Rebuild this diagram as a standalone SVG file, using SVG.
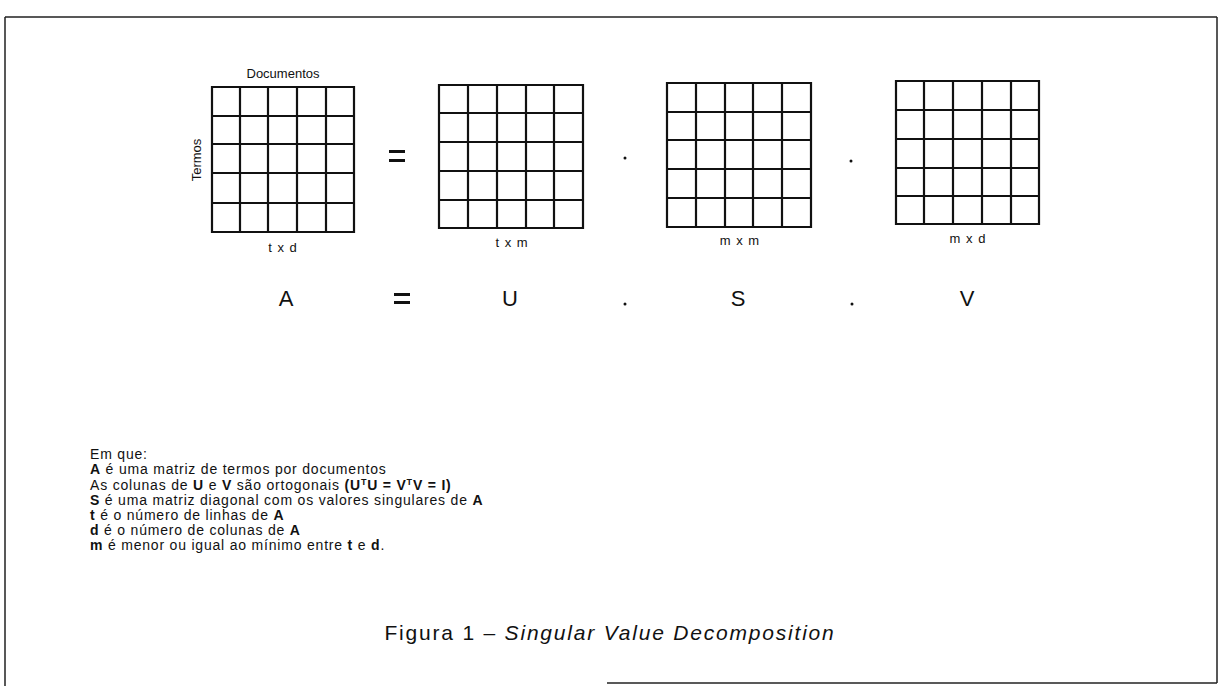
<svg xmlns="http://www.w3.org/2000/svg" width="1221" height="686" viewBox="0 0 1221 686">
<style>
.grid{fill:none;stroke:#111;stroke-width:2.2}
.lbl{font-family:"Liberation Sans",Arial,sans-serif;font-size:13px;fill:#111;text-anchor:middle}
.sz{letter-spacing:1px}
.big{font-family:"Liberation Sans",Arial,sans-serif;font-size:22px;fill:#111;text-anchor:middle}
.note{font-family:"Liberation Sans",Arial,sans-serif;font-size:14px;letter-spacing:0.8px;fill:#111}
.b{font-weight:bold}
.cap{font-family:"Liberation Sans",Arial,sans-serif;font-size:21px;letter-spacing:1.8px;fill:#111;text-anchor:middle}
.frame{fill:none;stroke:#222;stroke-width:1.5}
</style>
<rect width="1221" height="686" fill="#fff"/>
<g id="frame">
<path class="frame" d="M5,17 H1217 M5,17 V686 M1217,17 V683"/>
<path class="frame" d="M607,683 H1217" stroke-width="2"/>
</g>
<g id="matrix-A">
<text class="lbl" x="283" y="78">Documentos</text>
<text class="lbl" transform="translate(201,160) rotate(-90)">Termos</text>
<path class="grid" d="M212,87H354V232H212Z M240,87V232 M268,87V232 M297,87V232 M326,87V232 M212,116H354 M212,144H354 M212,173H354 M212,203H354"/>
<text class="lbl sz" x="283" y="252">t x d</text>
</g>
<g id="matrix-U">
<path class="grid" d="M439,85H583V228H439Z M468,85V228 M497,85V228 M526,85V228 M554,85V228 M439,113H583 M439,142H583 M439,171H583 M439,200H583"/>
<text class="lbl sz" x="512" y="247">t x m</text>
</g>
<g id="matrix-S">
<path class="grid" d="M667,83H811V227H667Z M696,83V227 M725,83V227 M753,83V227 M782,83V227 M667,112H811 M667,140H811 M667,169H811 M667,198H811"/>
<text class="lbl sz" x="740" y="245">m x m</text>
</g>
<g id="matrix-V">
<path class="grid" d="M896,81H1039V224H896Z M924,81V224 M953,81V224 M982,81V224 M1011,81V224 M896,110H1039 M896,139H1039 M896,168H1039 M896,196H1039"/>
<text class="lbl sz" x="968" y="243">m x d</text>
</g>
<g id="operators">
<rect x="389" y="150" width="16" height="3" fill="#111"/>
<rect x="389" y="159" width="16" height="3" fill="#111"/>
<circle cx="625" cy="158" r="1.5" fill="#111"/>
<circle cx="851" cy="161" r="1.5" fill="#111"/>
</g>
<g id="formula">
<text class="big" x="286" y="306">A</text>
<rect x="394" y="293" width="16" height="3" fill="#111"/>
<rect x="394" y="301" width="16" height="3" fill="#111"/>
<text class="big" x="510" y="306">U</text>
<circle cx="625" cy="304" r="1.5" fill="#111"/>
<text class="big" x="738" y="306">S</text>
<circle cx="852" cy="304" r="1.5" fill="#111"/>
<text class="big" x="967" y="306">V</text>
</g>
<g id="notes">
<text class="note" x="90" y="459">Em que:</text>
<text class="note" x="90" y="474"><tspan class="b">A</tspan> é uma matriz de termos por documentos</text>
<text class="note" x="90" y="490">As colunas de <tspan class="b">U</tspan> e <tspan class="b">V</tspan> são ortogonais <tspan class="b">(U</tspan><tspan class="b" font-size="9" dy="-5">T</tspan><tspan class="b" dy="5">U = V</tspan><tspan class="b" font-size="9" dy="-5">T</tspan><tspan class="b" dy="5">V = I)</tspan></text>
<text class="note" x="90" y="505"><tspan class="b">S</tspan> é uma matriz diagonal com os valores singulares de <tspan class="b">A</tspan></text>
<text class="note" x="90" y="520"><tspan class="b">t</tspan> é o número de linhas de <tspan class="b">A</tspan></text>
<text class="note" x="90" y="535"><tspan class="b">d</tspan> é o número de colunas de <tspan class="b">A</tspan></text>
<text class="note" x="90" y="550"><tspan class="b">m</tspan> é menor ou igual ao mínimo entre <tspan class="b">t</tspan> e <tspan class="b">d</tspan>.</text>
</g>
<g id="caption">
<text class="cap" x="610" y="640">Figura 1 – <tspan font-style="italic">Singular Value Decomposition</tspan></text>
</g>
</svg>
